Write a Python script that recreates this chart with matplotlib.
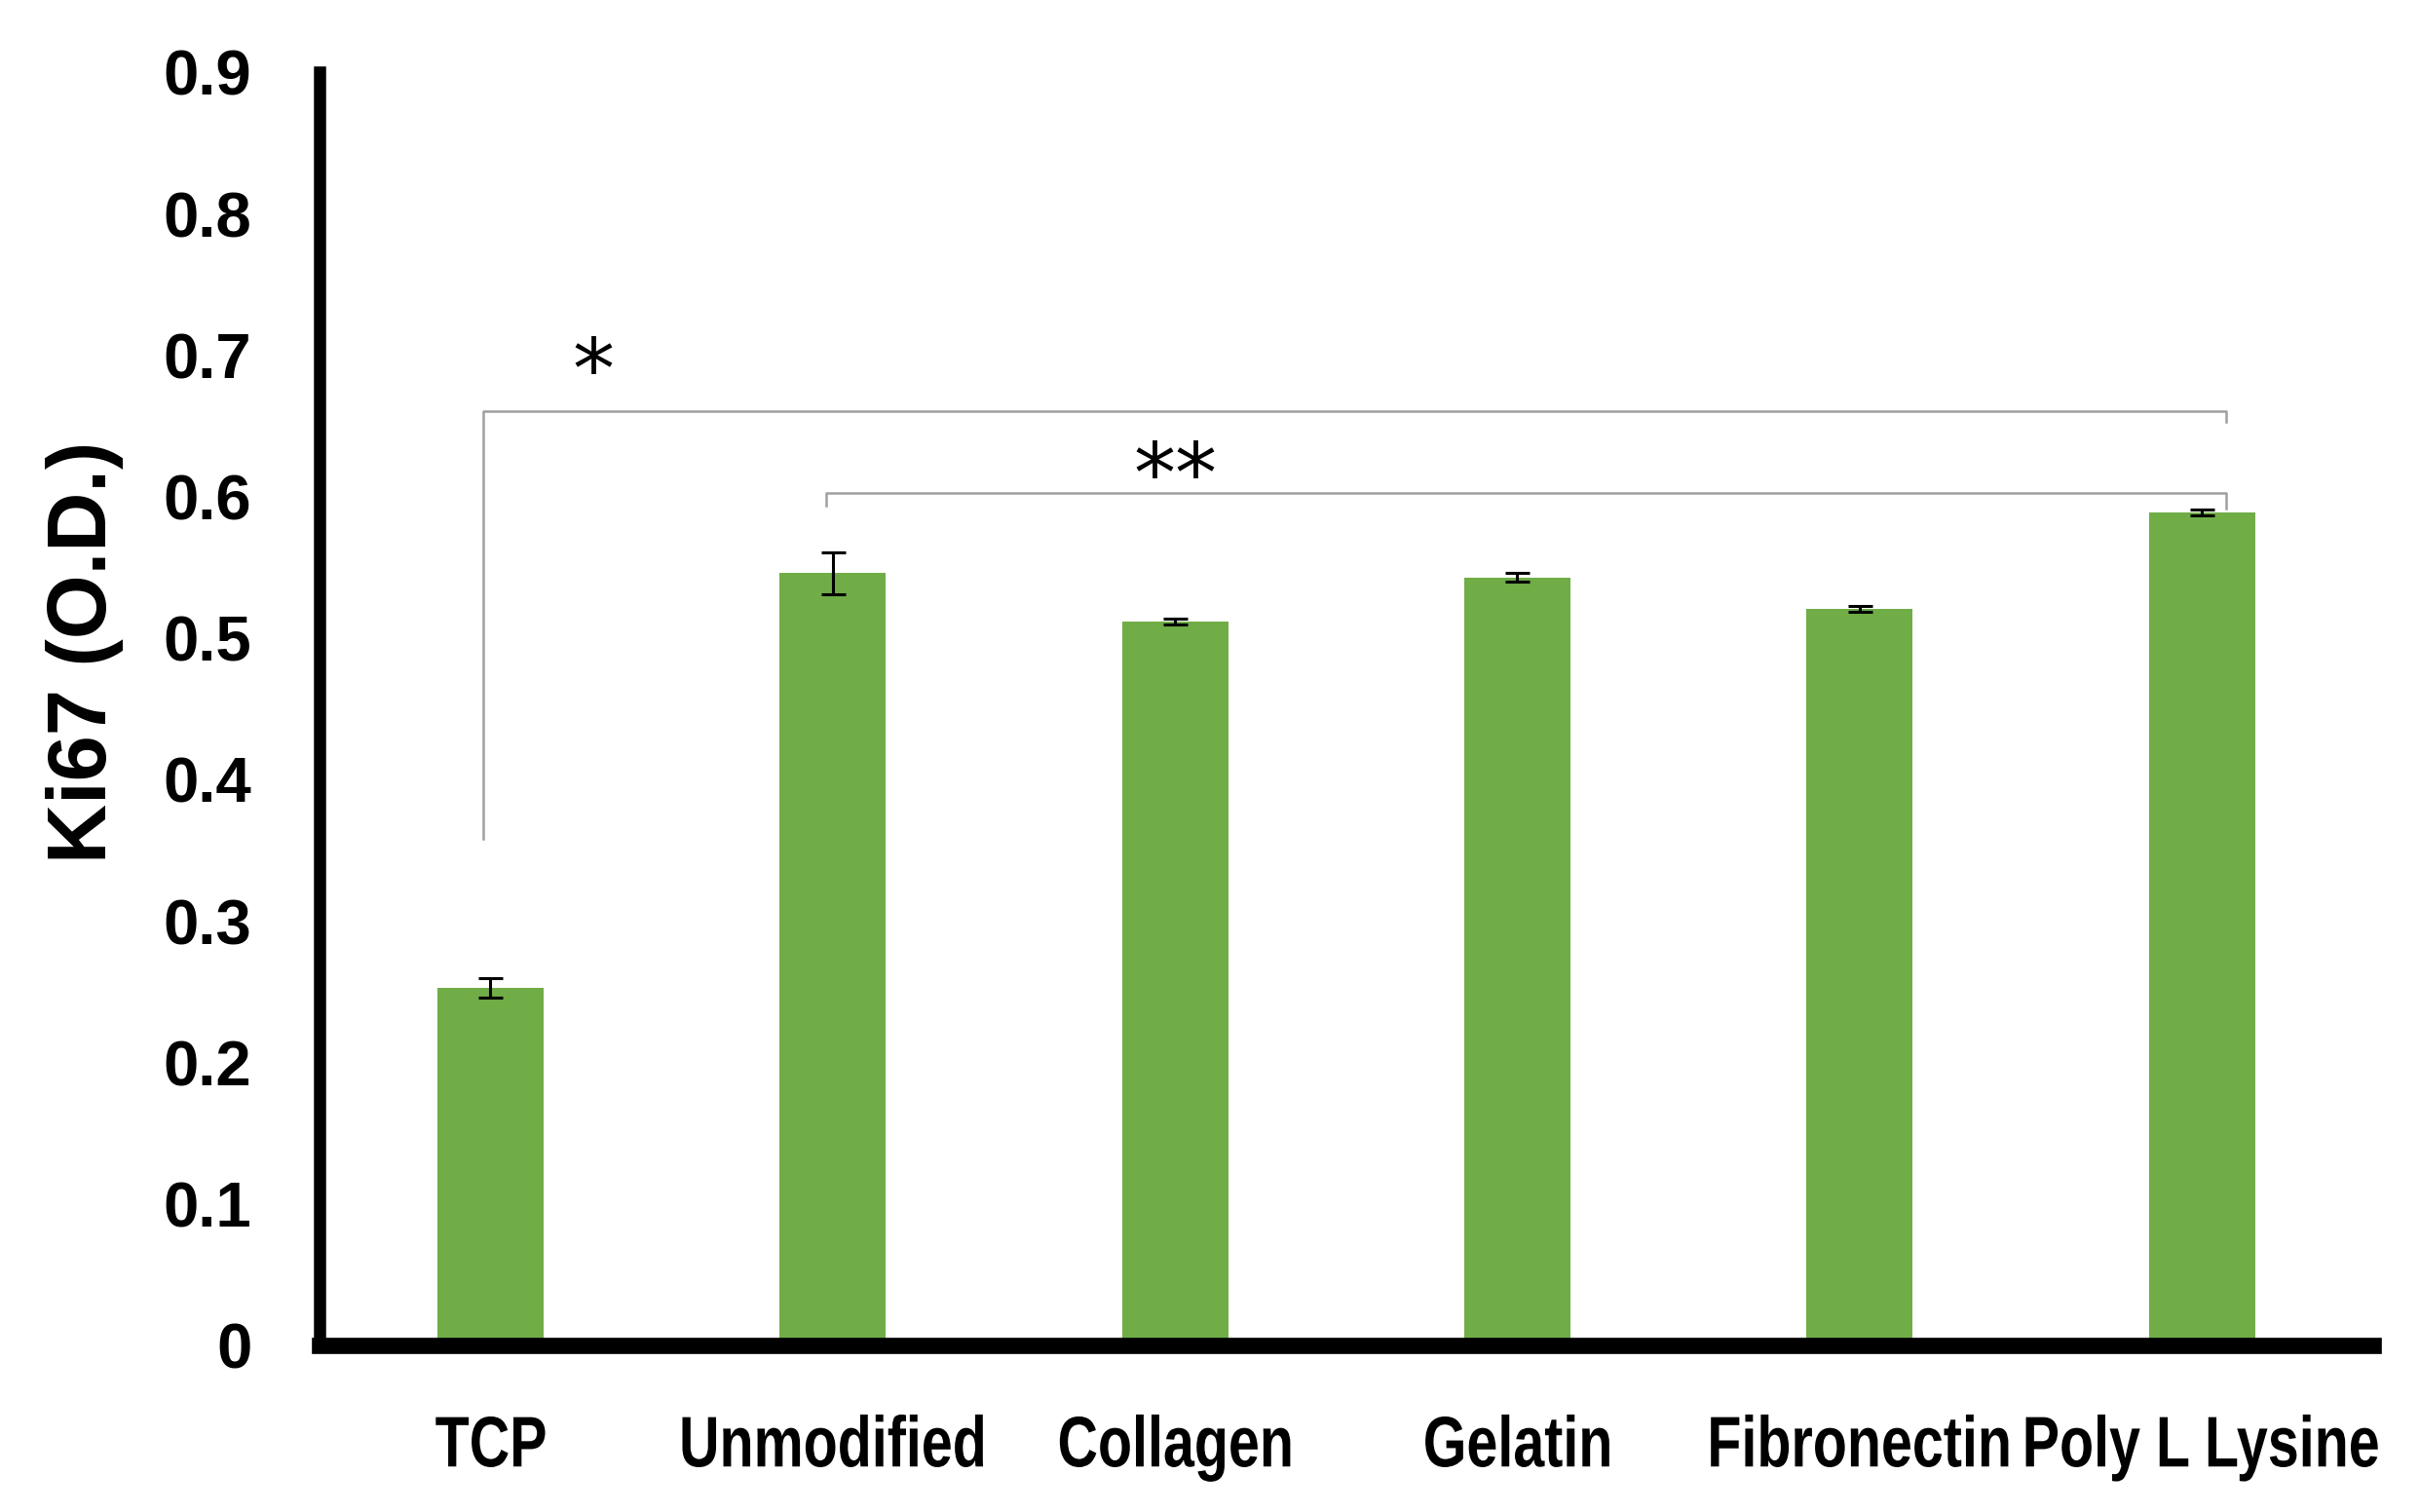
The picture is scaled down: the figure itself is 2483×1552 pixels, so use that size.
import numpy as np
import matplotlib
matplotlib.use("Agg")
import matplotlib.pyplot as plt
from matplotlib import font_manager
from matplotlib.textpath import TextPath
from matplotlib.patches import PathPatch
from matplotlib.transforms import Affine2D, ScaledTranslation

# data
categories = ["TCP", "Unmodified", "Collagen", "Gelatin", "Fibronectin", "Poly L Lysine"]
ki67 = [0.253, 0.546, 0.512, 0.543, 0.521, 0.589]
ki67_err = [0.007, 0.015, 0.002, 0.003, 0.002, 0.002]

# significance brackets: (left index, right index, bar height, left leg end, right leg end, label)
brackets = [
    (0, 5, 0.661, 0.358, 0.653, "*"),
    (1, 5, 0.603, 0.594, 0.592, "**"),
]
label_pos = [(0.3, 0.686), (2.0, 0.612)]

plt.rcParams['font.family'] = ['Liberation Sans', 'DejaVu Sans']
DPI = 100

fig = plt.figure(figsize=(24.83, 15.52), dpi=DPI)
ax = fig.add_axes([0.132, 0.110, 0.849, 0.842])

x = np.arange(len(categories))
ax.bar(x, ki67, width=0.31, color="#70AD47", zorder=2)
ax.errorbar(x, ki67, yerr=ki67_err, fmt="none", ecolor="black",
            elinewidth=2.2, capsize=9, capthick=2.2, zorder=3)

for (i0, i1, h, l0, l1, lab), (tx, ty) in zip(brackets, label_pos):
    ax.plot([x[i0] - 0.02, x[i0] - 0.02, x[i1] + 0.07, x[i1] + 0.07], [l0, h, h, l1],
            color="#A0A0A0", lw=1.8, zorder=1)
    ax.text(tx, ty, lab, ha="center", va="center", fontsize=62,
            family=['DejaVu Sans'], color="black")

ax.set_xlim(-0.5, 5.5)
ax.set_ylim(0, 0.9)
ax.set_yticks(np.arange(0, 0.91, 0.1))
ax.set_yticklabels(["0"] + ["%.1f" % v for v in np.arange(0.1, 0.91, 0.1)],
                   fontsize=47, fontweight="bold")
ax.set_xticks(x)
ax.set_xticklabels([])
ax.tick_params(axis="y", length=0, pad=50)
ax.tick_params(axis="x", length=0)
ax.set_ylabel("Ki67 (O.D.)", fontsize=61, fontweight="bold")
ax.yaxis.set_label_coords(-0.095, 0.545)

# category labels in a narrowed bold face (squeezed text paths)
prop = font_manager.FontProperties(family="Liberation Sans", weight="bold")
squeeze = 0.78
for xi, lab in zip(x, categories):
    tp = TextPath((0, 0), lab, size=53, prop=prop)
    ext = tp.get_extents()
    tr = (Affine2D().translate(-(ext.x0 + ext.x1) / 2, 0)
          .scale(squeeze * DPI / 72, DPI / 72)
          .translate(0, -124)
          + ScaledTranslation(xi, 0, ax.get_xaxis_transform()))
    fig.patches.append(PathPatch(tp, transform=tr, color="black", lw=0))

for s in ["top", "right"]:
    ax.spines[s].set_visible(False)
ax.spines["left"].set_linewidth(9)
ax.spines["bottom"].set_linewidth(12)

fig.savefig("out.png", dpi=DPI)
